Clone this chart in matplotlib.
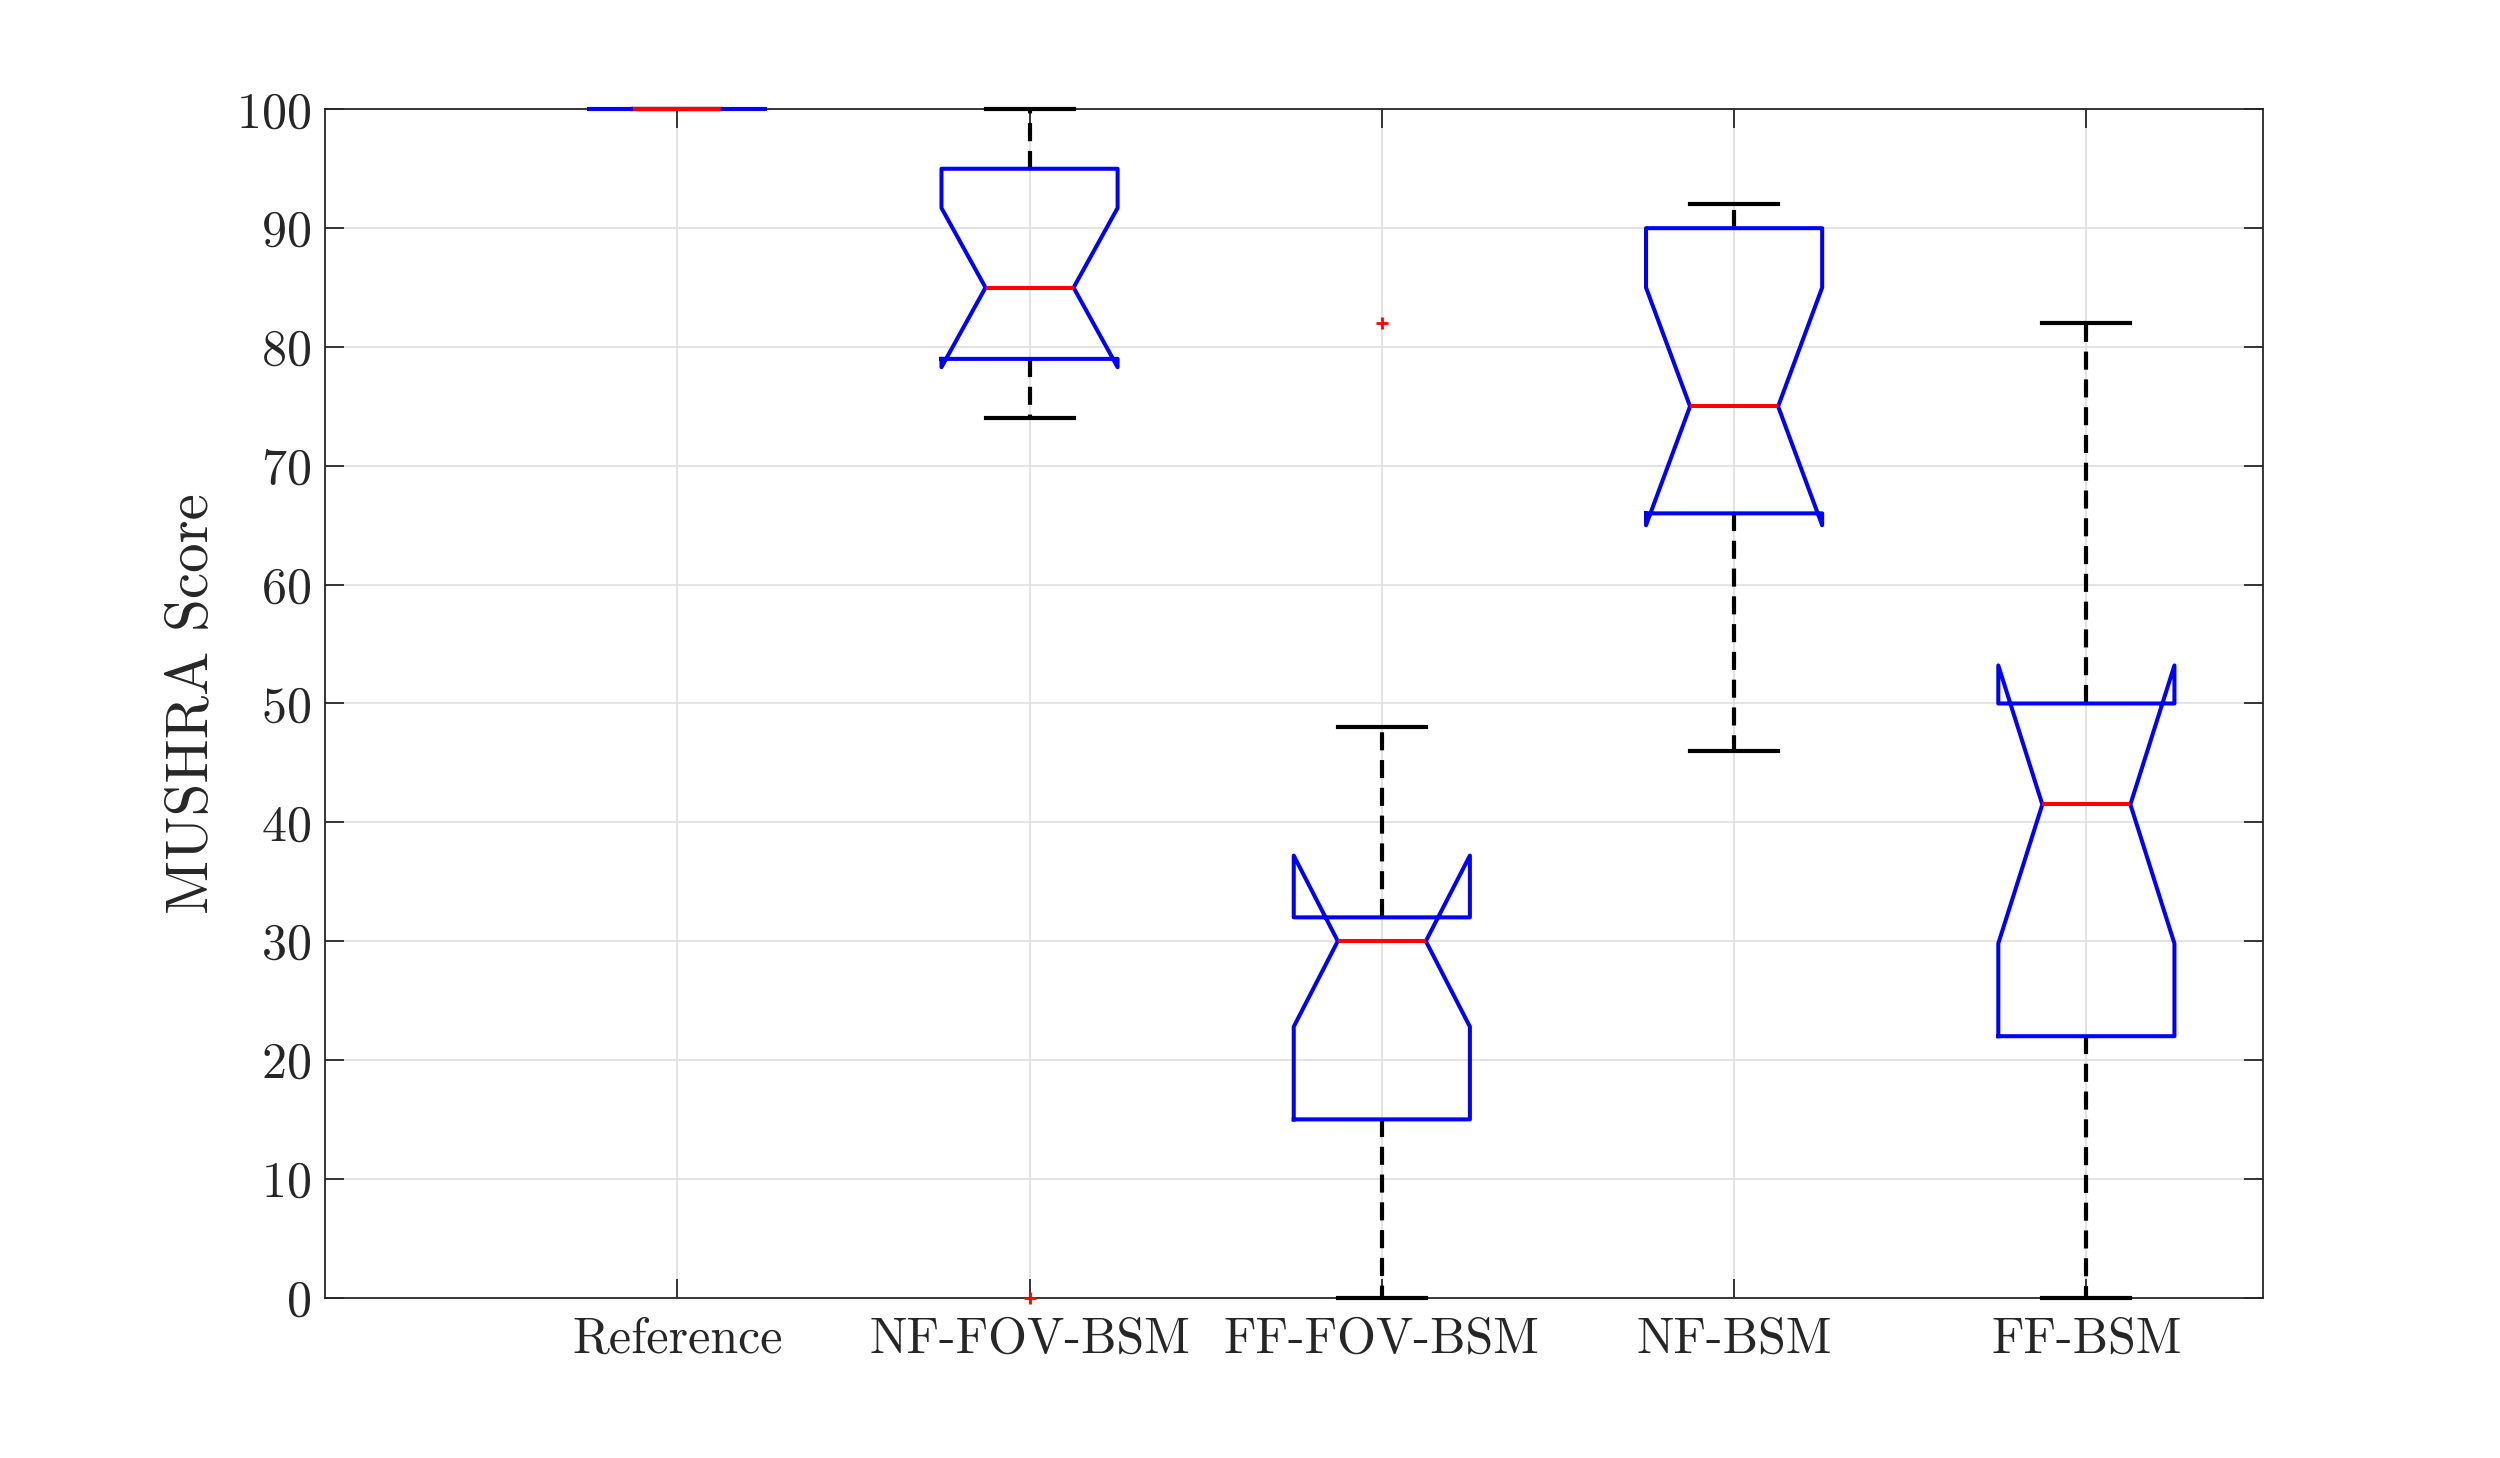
import matplotlib
matplotlib.use('Agg')
import matplotlib.pyplot as plt

plt.rcParams['font.family'] = ['cmr10', 'DejaVu Serif']
plt.rcParams['axes.formatter.use_mathtext'] = True
plt.rcParams['lines.scale_dashes'] = False

# MUSHRA results per condition
conditions = ['Reference', 'NF-FOV-BSM', 'FF-FOV-BSM', 'NF-BSM', 'FF-BSM']
q1 = [100, 79, 15, 66, 22]
med = [100, 85, 30, 75, 41.5]
q3 = [100, 95, 32, 90, 50]
whislo = [100, 74, 0, 46, 0]
whishi = [100, 100, 48, 92, 82]
ci_lo = [100, 78.3, 22.8, 65.0, 29.8]
ci_hi = [100, 91.7, 37.2, 85.0, 53.2]
outliers = [[], [0], [82], [], []]

stats = []
for i, name in enumerate(conditions):
    stats.append(dict(label=name, q1=q1[i], med=med[i], q3=q3[i],
                      whislo=whislo[i], whishi=whishi[i],
                      cilo=ci_lo[i], cihi=ci_hi[i], fliers=outliers[i]))

fig = plt.figure(figsize=(25, 14.58), dpi=100)
ax = fig.add_axes([0.13, 0.11, 0.775, 0.815])

pos = list(range(1, len(conditions) + 1))
bp = ax.bxp(stats, positions=pos, widths=0.5, capwidths=0.25,
            shownotches=True, showfliers=True, patch_artist=False,
            boxprops=dict(color='#0000ff', linewidth=2.9, zorder=4),
            medianprops=dict(color='#ff0000', linewidth=2.9, zorder=5),
            whiskerprops=dict(color='black', linewidth=3.0,
                              linestyle=(0, (13, 7)), zorder=3),
            capprops=dict(color='black', linewidth=3.0, zorder=3),
            flierprops=dict(marker='+', markeredgecolor='#ff0000',
                            markersize=9, markeredgewidth=2.0,
                            linestyle='none', zorder=6))
for key in bp:
    for a in bp[key]:
        a.set_clip_on(False)

ax.set_xlim(0, 5.5)
ax.set_ylim(0, 100)
ax.set_yticks(range(0, 101, 10))
ax.set_xticks(pos)
ax.set_xticklabels(conditions)

ax.grid(True, color='#dedede', linewidth=1.2)
ax.set_axisbelow(True)
for s in ax.spines.values():
    s.set_color('#262626')
    s.set_linewidth(1.3)
ax.tick_params(direction='in', length=14, width=1.3, top=True, right=True,
               colors='#262626', labelsize=36)
ax.tick_params(axis='x', pad=14)
ax.tick_params(axis='y', pad=10)
ax.set_ylabel('MUSHRA Score', fontsize=42.5, color='#262626', labelpad=12)

fig.savefig('out.png', dpi=100)
